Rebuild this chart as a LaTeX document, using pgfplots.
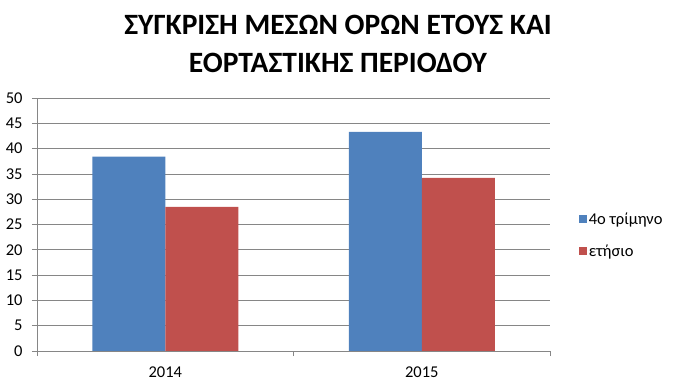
\documentclass[border=0pt]{standalone}
\usepackage{fontspec}
\setmainfont{Carlito}
\usepackage{pgfplots}
\pgfplotsset{compat=1.18}
\definecolor{sblue}{HTML}{4F81BD}
\definecolor{sred}{HTML}{C0504D}
\definecolor{gridgray}{HTML}{868686}
\begin{document}
\begin{tikzpicture}
\useasboundingbox (0,0) rectangle (673bp,387bp);
\node[font=\fontsize{29.5bp}{38bp}\selectfont\bfseries, align=center, anchor=center, inner sep=0pt] at (338bp,343bp) {ΣΥΓΚΡΙΣΗ ΜΕΣΩΝ ΟΡΩΝ ΕΤΟΥΣ ΚΑΙ\\ΕΟΡΤΑΣΤΙΚΗΣ ΠΕΡΙΟΔΟΥ};
\begin{axis}[
  at={(37bp,36bp)}, anchor=south west,
  scale only axis, width=513bp, height=253bp,
  ybar=0pt, bar width=73bp,
  xmin=-0.5, xmax=1.5, ymin=0, ymax=50,
  ytick={0,5,...,50},
  xtick={-0.5,0.5,1.5}, xticklabels={},
  extra x ticks={0,1}, extra x tick labels={2014,2015},
  extra x tick style={major tick length=0pt, xticklabel style={yshift=-12bp}},
  axis x line*=bottom, axis y line*=left,
  axis line style={gridgray, -},
  ymajorgrids, grid style={gridgray, line width=0.8pt},
  every axis line/.append style={line width=0.8pt},
  tick align=outside,
  tick style={gridgray, line width=0.8pt},
  major tick length=5bp,
  tick label style={font=\fontsize{16.5bp}{19bp}\selectfont},
  /pgf/number format/assume math mode=true,
  yticklabel style={xshift=-6bp},
  legend style={at={(rel axis cs:1.05,0.458)}, anchor=west, draw=none,
    font=\fontsize{16.5bp}{19bp}\selectfont, row sep=15bp, fill=none},
  legend cell align=left,
  legend image code/.code={\fill[#1] (0bp,-4bp) rectangle (8bp,4bp);},
]
\addplot[fill=sblue, draw=none] coordinates {(0,38.4) (1,43.3)};
\addplot[fill=sred, draw=none] coordinates {(0,28.5) (1,34.2)};
\legend{4ο τρίμηνο, ετήσιο}
\end{axis}
\end{tikzpicture}
\end{document}
